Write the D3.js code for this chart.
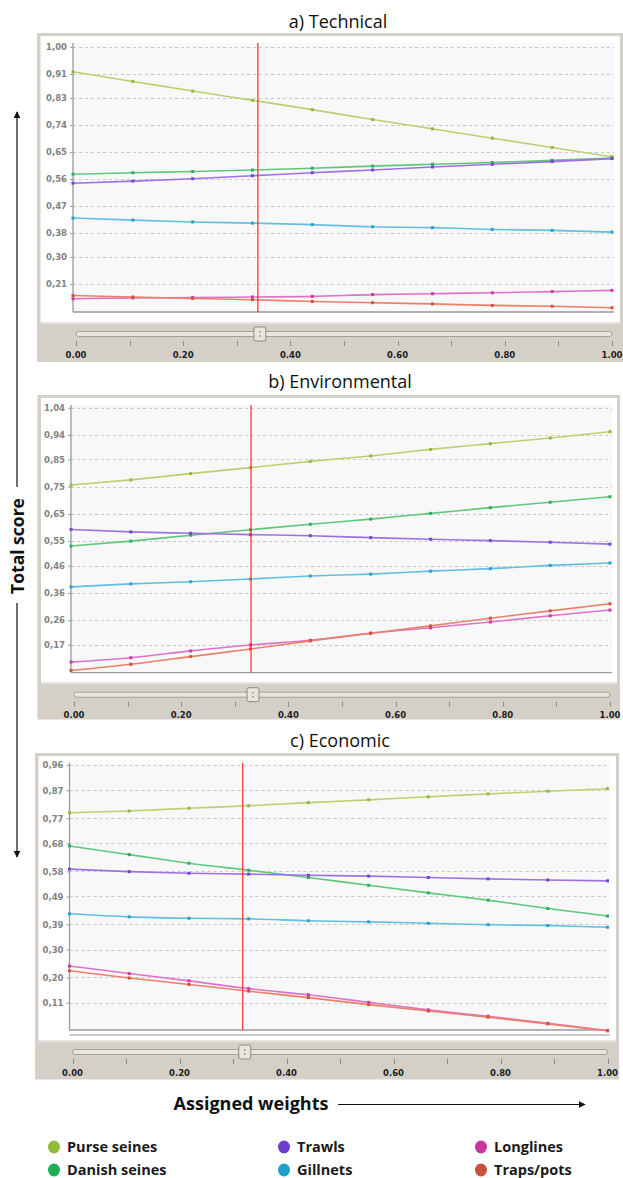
<!DOCTYPE html>
<html>
<head>
<meta charset="utf-8">
<script src="https://cdn.jsdelivr.net/npm/d3@7"></script>
<style>
  body { margin: 0; background: #fff; }
  svg { display: block; }
</style>
</head>
<body>
<div id="vis"></div>
<script>
// Data ----------------------------------------------------------------------
var weights = [0.000, 0.111, 0.222, 0.333, 0.444, 0.556, 0.667, 0.778, 0.889, 1.000];

var seriesNames = ["Purse seines", "Danish seines", "Trawls", "Gillnets", "Longlines", "Traps/pots"];
var lineColors = ["#b9d170", "#5fc87e", "#9c72e2", "#62bfdf", "#e072c6", "#ea8068"];
var markColors = ["#94b83e", "#2fae5c", "#7446d2", "#26a2cc", "#cc3aa2", "#d25440"];
var legendColors = ["#93bb3a", "#1fad55", "#6b3fc9", "#1fa0c9", "#c8359d", "#c9513b"];

// order follows seriesNames
var technical = [
    [0.917, 0.885, 0.853, 0.822, 0.791, 0.758, 0.727, 0.696, 0.665, 0.634],
    [0.576, 0.581, 0.585, 0.590, 0.596, 0.603, 0.609, 0.615, 0.622, 0.630],
    [0.546, 0.553, 0.561, 0.571, 0.581, 0.590, 0.600, 0.609, 0.618, 0.628],
    [0.430, 0.423, 0.417, 0.413, 0.408, 0.401, 0.398, 0.392, 0.389, 0.383],
    [0.161, 0.164, 0.165, 0.167, 0.169, 0.175, 0.178, 0.181, 0.185, 0.189],
    [0.172, 0.167, 0.162, 0.158, 0.152, 0.148, 0.144, 0.139, 0.136, 0.131]
];
var environmental = [
    [0.756, 0.775, 0.798, 0.820, 0.843, 0.863, 0.887, 0.908, 0.929, 0.952],
    [0.532, 0.550, 0.572, 0.592, 0.612, 0.631, 0.652, 0.673, 0.693, 0.713],
    [0.593, 0.584, 0.579, 0.574, 0.570, 0.563, 0.557, 0.552, 0.546, 0.539],
    [0.382, 0.393, 0.401, 0.411, 0.422, 0.429, 0.440, 0.449, 0.461, 0.470],
    [0.106, 0.122, 0.147, 0.169, 0.186, 0.212, 0.232, 0.253, 0.276, 0.297],
    [0.075, 0.098, 0.126, 0.154, 0.184, 0.212, 0.239, 0.267, 0.294, 0.320]
];
var economic = [
    [0.790, 0.796, 0.806, 0.815, 0.826, 0.836, 0.847, 0.857, 0.867, 0.876],
    [0.671, 0.640, 0.609, 0.584, 0.558, 0.530, 0.503, 0.477, 0.447, 0.420],
    [0.588, 0.579, 0.573, 0.570, 0.566, 0.563, 0.558, 0.553, 0.549, 0.546],
    [0.428, 0.417, 0.412, 0.410, 0.403, 0.399, 0.394, 0.389, 0.386, 0.380],
    [0.241, 0.214, 0.188, 0.160, 0.138, 0.111, 0.084, 0.061, 0.036, 0.010],
    [0.224, 0.198, 0.175, 0.151, 0.128, 0.103, 0.080, 0.058, 0.034, 0.009]
];

var technicalTicks = ["1,00", "0,91", "0,83", "0,74", "0,65", "0,56", "0,47", "0,38", "0,30", "0,21"];
var environmentalTicks = ["1,04", "0,94", "0,85", "0,75", "0,65", "0,55", "0,46", "0,36", "0,26", "0,17"];
var economicTicks = ["0,96", "0,87", "0,77", "0,68", "0,58", "0,49", "0,39", "0,30", "0,20", "0,11"];

var selectedWeights = [0.343, 0.334, 0.322];
var sliderTicks = [0, 0.1, 0.2, 0.3, 0.4, 0.5, 0.6, 0.7, 0.8, 0.9, 1.0];
var sliderLabels = ["0.00", "0.20", "0.40", "0.60", "0.80", "1.00"];
var panelTitles = ["a) Technical", "b) Environmental", "c) Economic"];

// Layout --------------------------------------------------------------------
var W = 623, H = 1178;

var panels = [
    {title: panelTitles[0], scores: technical, ticks: technicalTicks, weight: selectedWeights[0],
     titleX: 338, titleY: 28,
     frame: {x0: 37, y0: 33, x1: 623, white: 322, y1: 362},
     plot: {left: 73, right: 612, top: 43, bottom: 312}, yDomain: [0.117, 1.013]},
    {title: panelTitles[1], scores: environmental, ticks: environmentalTicks, weight: selectedWeights[1],
     titleX: 340, titleY: 388,
     frame: {x0: 37.5, y0: 395, x1: 620, white: 682, y1: 719.5},
     plot: {left: 71, right: 610, top: 405, bottom: 672.7}, yDomain: [0.067, 1.050]},
    {title: panelTitles[2], scores: economic, ticks: economicTicks, weight: selectedWeights[2],
     titleX: 340, titleY: 746.5,
     frame: {x0: 35, y0: 753, x1: 619, white: 1040, y1: 1079.5},
     plot: {left: 69.5, right: 607.5, top: 762.7, bottom: 1030}, yDomain: [0.012, 0.969], extraLine: true}
];

var svg = d3.select("#vis").append("svg")
    .attr("width", W)
    .attr("height", H);

var defs = svg.append("defs");
defs.append("marker")
    .attr("id", "arrow")
    .attr("viewBox", "0 0 10 10")
    .attr("refX", 9).attr("refY", 5)
    .attr("markerWidth", 7).attr("markerHeight", 7)
    .attr("markerUnits", "userSpaceOnUse")
    .attr("orient", "auto")
    .append("path")
    .attr("d", "M0,0 L10,5 L0,10 z")
    .attr("fill", "#111");

var tickFont = "DejaVu Sans, Verdana, sans-serif";

// Draw each panel -----------------------------------------------------------
panels.forEach(function(p) {
    var g = svg.append("g");
    var f = p.frame, pl = p.plot;

    // title
    g.append("text")
        .attr("x", p.titleX)
        .attr("y", p.titleY)
        .attr("text-anchor", "middle")
        .style("font-family", "Open Sans, sans-serif")
        .style("font-size", "18px")
        .style("fill", "#111")
        .text(p.title);

    // frame
    g.append("rect")
        .attr("x", f.x0).attr("y", f.y0)
        .attr("width", f.x1 - f.x0).attr("height", f.y1 - f.y0)
        .attr("fill", "#d4d0c8");
    g.append("rect")
        .attr("x", f.x0 + 3.5).attr("y", f.y0 + 3)
        .attr("width", f.x1 - f.x0 - 6.5).attr("height", f.white - f.y0 - 3)
        .attr("fill", "#ffffff");
    g.append("rect")
        .attr("x", f.x0 + 3.5).attr("y", f.white)
        .attr("width", f.x1 - f.x0 - 6.5).attr("height", 2)
        .attr("fill", "#e6e3dd");

    // plot background
    g.append("rect")
        .attr("x", pl.left).attr("y", pl.top)
        .attr("width", pl.right - pl.left + 2).attr("height", pl.bottom - pl.top)
        .attr("fill", "#f8f8f8");

    var x = d3.scaleLinear().domain([0, 1]).range([pl.left, pl.right]);
    var y = d3.scaleLinear().domain(p.yDomain).range([pl.bottom, pl.top]);

    var tickVals = p.ticks.map(function(t) { return +t.replace(",", "."); });

    // grid
    g.append("g")
        .selectAll("line")
        .data(tickVals)
        .enter().append("line")
        .attr("x1", pl.left).attr("x2", pl.right + 2)
        .attr("y1", function(d) { return Math.round(y(d)) + 0.5; })
        .attr("y2", function(d) { return Math.round(y(d)) + 0.5; })
        .attr("stroke", "#c9c9c9")
        .attr("stroke-width", 1)
        .attr("stroke-dasharray", "3,3");

    // y axis
    var yAxis = d3.axisLeft(y)
        .tickValues(tickVals)
        .tickSize(3)
        .tickPadding(3)
        .tickFormat(function(d, i) { return p.ticks[i]; });
    var ya = g.append("g")
        .attr("transform", "translate(" + pl.left + ",0)")
        .call(yAxis);
    ya.select(".domain").remove();
    ya.selectAll("line").attr("stroke", "#9a9a9a");
    ya.selectAll("text")
        .style("font-family", tickFont)
        .style("font-size", "8.5px")
        .style("font-weight", "bold")
        .style("fill", "#828282");

    // axis lines
    g.append("line")
        .attr("x1", pl.left).attr("x2", pl.left)
        .attr("y1", pl.top).attr("y2", pl.bottom)
        .attr("stroke", "#9a9a9a").attr("stroke-width", 1.3);
    g.append("line")
        .attr("x1", pl.left).attr("x2", pl.right + 2)
        .attr("y1", pl.bottom).attr("y2", pl.bottom)
        .attr("stroke", "#9a9a9a").attr("stroke-width", 1.3);
    if (p.extraLine) {
        g.append("line")
            .attr("x1", pl.left).attr("x2", pl.right + 2)
            .attr("y1", pl.bottom + 5).attr("y2", pl.bottom + 5)
            .attr("stroke", "#9a9a9a").attr("stroke-width", 1.2);
    }

    // series lines
    var line = d3.line()
        .x(function(d, i) { return x(weights[i]); })
        .y(function(d) { return y(d); })
        .curve(d3.curveMonotoneX);

    p.scores.forEach(function(vals, s) {
        g.append("path")
            .datum(vals)
            .attr("d", line)
            .attr("fill", "none")
            .attr("stroke", lineColors[s])
            .attr("stroke-width", 1.6);
        g.append("g")
            .selectAll("rect")
            .data(vals)
            .enter().append("rect")
            .attr("x", function(d, i) { return x(weights[i]) - 1.5; })
            .attr("y", function(d) { return y(d) - 1.5; })
            .attr("width", 3).attr("height", 3)
            .attr("fill", markColors[s]);
    });

    // red weight marker
    g.append("line")
        .attr("x1", x(p.weight)).attr("x2", x(p.weight))
        .attr("y1", pl.top).attr("y2", pl.bottom)
        .attr("stroke", "#ff2a2a").attr("stroke-width", 1.2);

    // slider
    var xs = d3.scaleLinear().domain([0, 1]).range([pl.left + 3, pl.right]);
    var ty = pl.bottom + 22;

    g.append("rect")
        .attr("x", xs(0)).attr("y", ty - 2.5)
        .attr("width", xs(1) - xs(0)).attr("height", 5)
        .attr("rx", 2.5)
        .attr("fill", "#e9e6e0")
        .attr("stroke", "#a6a29a").attr("stroke-width", 1);

    g.append("g")
        .selectAll("line")
        .data(sliderTicks)
        .enter().append("line")
        .attr("x1", function(d) { return Math.round(xs(d)) + 0.5; })
        .attr("x2", function(d) { return Math.round(xs(d)) + 0.5; })
        .attr("y1", ty + 7).attr("y2", ty + 12)
        .attr("stroke", "#8c8c8c");

    g.append("g")
        .selectAll("text")
        .data(sliderLabels)
        .enter().append("text")
        .attr("x", function(d) { return xs(+d); })
        .attr("y", ty + 23.5)
        .attr("text-anchor", "middle")
        .style("font-family", tickFont)
        .style("font-size", "8.5px")
        .style("font-weight", "bold")
        .style("fill", "#1e1e1e")
        .text(function(d) { return d; });

    var tx = xs(p.weight);
    g.append("rect")
        .attr("x", tx - 6).attr("y", ty - 7)
        .attr("width", 12).attr("height", 14)
        .attr("rx", 2)
        .attr("fill", "#e8e5df")
        .attr("stroke", "#8e8a83").attr("stroke-width", 1);
    g.append("circle").attr("cx", tx).attr("cy", ty - 2).attr("r", 0.8).attr("fill", "#6e6a64");
    g.append("circle").attr("cx", tx).attr("cy", ty + 2).attr("r", 0.8).attr("fill", "#6e6a64");
});

// Axis captions -------------------------------------------------------------
svg.append("text")
    .attr("transform", "translate(24,546) rotate(-90)")
    .attr("text-anchor", "middle")
    .style("font-family", "Open Sans, sans-serif")
    .style("font-size", "17.5px")
    .style("font-weight", "bold")
    .style("fill", "#111")
    .text("Total score");

svg.append("line")
    .attr("x1", 17).attr("x2", 17)
    .attr("y1", 487).attr("y2", 112)
    .attr("stroke", "#111").attr("stroke-width", 1.2)
    .attr("marker-end", "url(#arrow)");
svg.append("line")
    .attr("x1", 17).attr("x2", 17)
    .attr("y1", 603).attr("y2", 857)
    .attr("stroke", "#111").attr("stroke-width", 1.2)
    .attr("marker-end", "url(#arrow)");

svg.append("text")
    .attr("x", 251)
    .attr("y", 1110)
    .attr("text-anchor", "middle")
    .style("font-family", "Open Sans, sans-serif")
    .style("font-size", "18px")
    .style("font-weight", "bold")
    .style("fill", "#111")
    .text("Assigned weights");
svg.append("line")
    .attr("x1", 338).attr("x2", 585)
    .attr("y1", 1104.5).attr("y2", 1104.5)
    .attr("stroke", "#111").attr("stroke-width", 1.2)
    .attr("marker-end", "url(#arrow)");

// Legend --------------------------------------------------------------------
var legendX = [54, 284, 481];
var legendY = [1147, 1170];
var legend = svg.append("g")
    .selectAll("g")
    .data(seriesNames)
    .enter().append("g")
    .attr("transform", function(d, i) {
        return "translate(" + legendX[Math.floor(i / 2)] + "," + legendY[i % 2] + ")";
    });
legend.append("ellipse")
    .attr("rx", 6).attr("ry", 6.5)
    .attr("fill", function(d, i) { return legendColors[i]; });
legend.append("text")
    .attr("x", 13)
    .attr("y", 5)
    .style("font-family", "Open Sans, sans-serif")
    .style("font-size", "14.5px")
    .style("font-weight", "bold")
    .style("fill", "#1a1a1a")
    .text(function(d) { return d; });
</script>
</body>
</html>
